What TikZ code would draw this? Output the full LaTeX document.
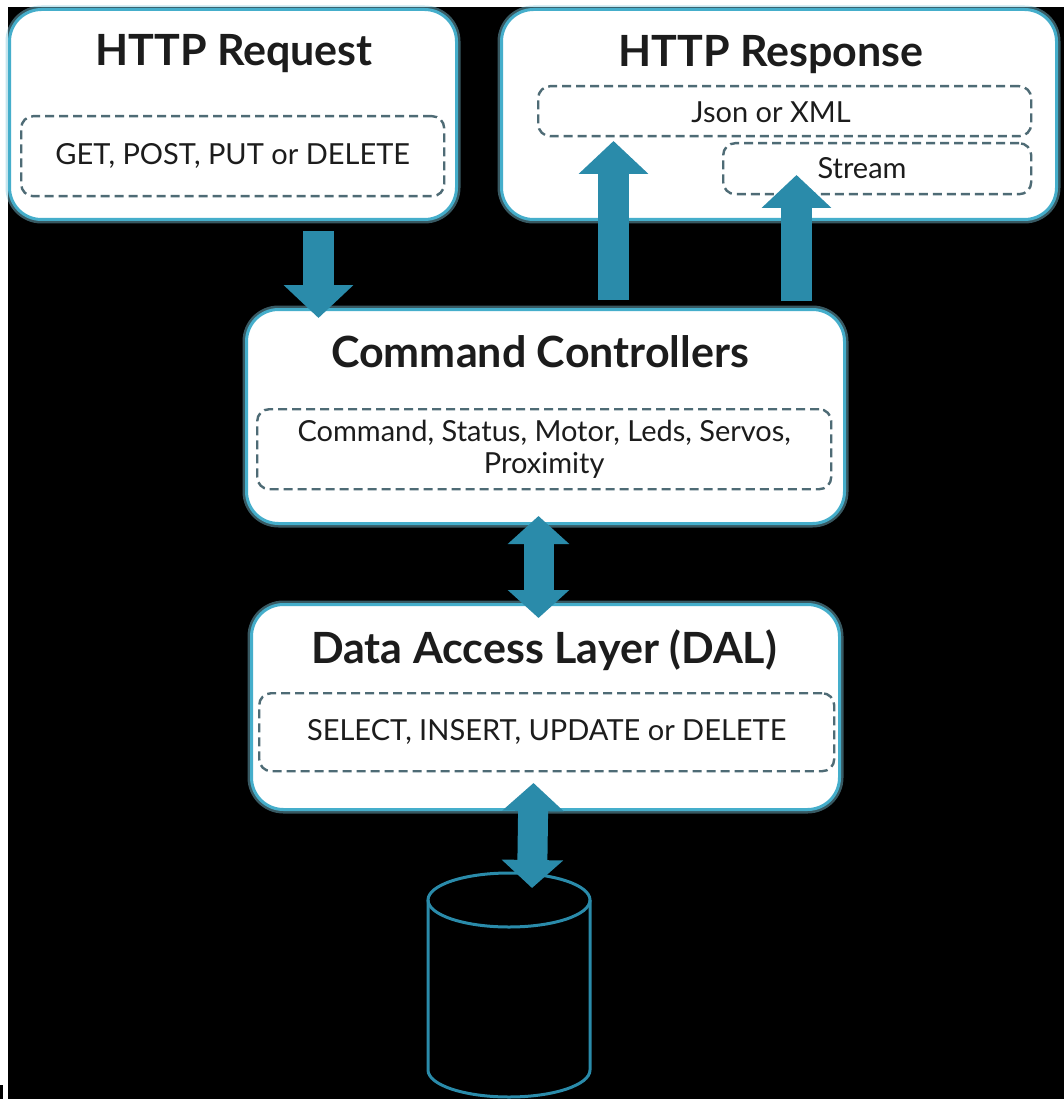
\documentclass[tikz,border=0pt]{standalone}
\usepackage{fontspec}
\setmainfont{Lato}
\usetikzlibrary{arrows.meta,calc}
\definecolor{flow}{HTML}{2A8BAA}
\definecolor{rim}{HTML}{45AECB}
\definecolor{dashc}{HTML}{4E6B75}
\definecolor{ink}{HTML}{1C1C1C}
\begin{document}
\begin{tikzpicture}[x=1pt,y=-1pt,
  panel/.style={rectangle, rounded corners=32pt, fill=white, draw=rim, line width=3pt,
    preaction={draw=rim!70, line width=8pt, opacity=0.45},
    anchor=north west, inner sep=0pt},
  slot/.style={rectangle, rounded corners=12pt, draw=dashc, line width=2.4pt,
    dash pattern=on 9pt off 5pt, anchor=north west, inner sep=0pt,
    font=\fontsize{29}{32}\selectfont, text=ink, align=center},
  label/.style={font=\fontsize{29}{32}\selectfont, text=ink, inner sep=0pt},
  title/.style={font=\fontsize{43}{48}\selectfont\bfseries, text=ink, inner sep=0pt},
  fat/.style={draw=flow, line width=31pt, -{Triangle[length=33pt,width=68pt]}},
  fatboth/.style={draw=flow, line width=30pt,
    {Triangle[length=28pt,width=60pt]}-{Triangle[length=28pt,width=60pt]}}
]
% canvas
\fill[white] (0,0) rectangle (1064,1099);
\fill[black] (8,7) rectangle (1064,1099);
\fill[black] (0,1085) rectangle (3,1099);
\useasboundingbox (0,0) rectangle (1064,1099);

% HTTP request
\node[panel, minimum width=447pt, minimum height=210pt] (req) at (8,8) {};
\node[title] (reqT) at (234,54) {HTTP Request};
\node[slot, minimum width=423pt, minimum height=80pt] (reqS) at (20,115) {GET, POST, PUT or DELETE};

% HTTP response
\node[panel, minimum width=555pt, minimum height=210pt] (resp) at (500,8) {};
\node[title] (respT) at (771,55) {HTTP Response};
\node[slot, minimum width=493pt, minimum height=50pt] (json) at (537,85) {};
\node[label] (jsonT) at (771,112) {Json or XML};
\node[slot, minimum width=308pt, minimum height=51pt] (stream) at (722,142) {};
\node[label] (streamT) at (862,168) {Stream};

% command controllers
\node[panel, minimum width=598pt, minimum height=214pt] (cc) at (245,308) {};
\node[title] (ccT) at (540,352) {Command Controllers};
\node[slot, minimum width=574pt, minimum height=80pt] (ccS) at (256,408)
  {Command, Status, Motor, Leds, Servos,\\Proximity};

% data access layer
\node[panel, minimum width=588pt, minimum height=205pt] (dal) at (250,603) {};
\node[title] (dalT) at (544,650) {Data Access Layer (DAL)};
\node[slot, minimum width=575pt, minimum height=78pt] (dalS) at (258,692)
  {SELECT, INSERT, UPDATE or DELETE};

% database cylinder (front arc of the base bulges downward)
\coordinate (dbtop) at (532,888);
\begin{scope}[draw=flow, line width=3pt]
  \draw (428,900) -- (428,1070) arc[start angle=180, end angle=0, x radius=81, y radius=27]
        -- (590,900);
  \draw (509,900) ellipse[x radius=81, y radius=27];
\end{scope}

% connectors
\draw[fat] ($(req.south)+(85.5,10)$) -- ($(cc.north)+(-227,10)$);
\draw[fat] ($(cc.north)+(68,-8)$) -- ($(resp.north)+(-165.5,133)$);
\draw[fat] ($(cc.north)+(251,-7)$) -- ($(resp.north)+(17.5,167)$);
\draw[fatboth] ($(cc.south)+(-7,-9)$) -- ($(dal.north)+(-7,15)$);
\draw[fatboth] ($(dal.south)+(-12,-28)$) -- (dbtop);
\end{tikzpicture}
\end{document}
